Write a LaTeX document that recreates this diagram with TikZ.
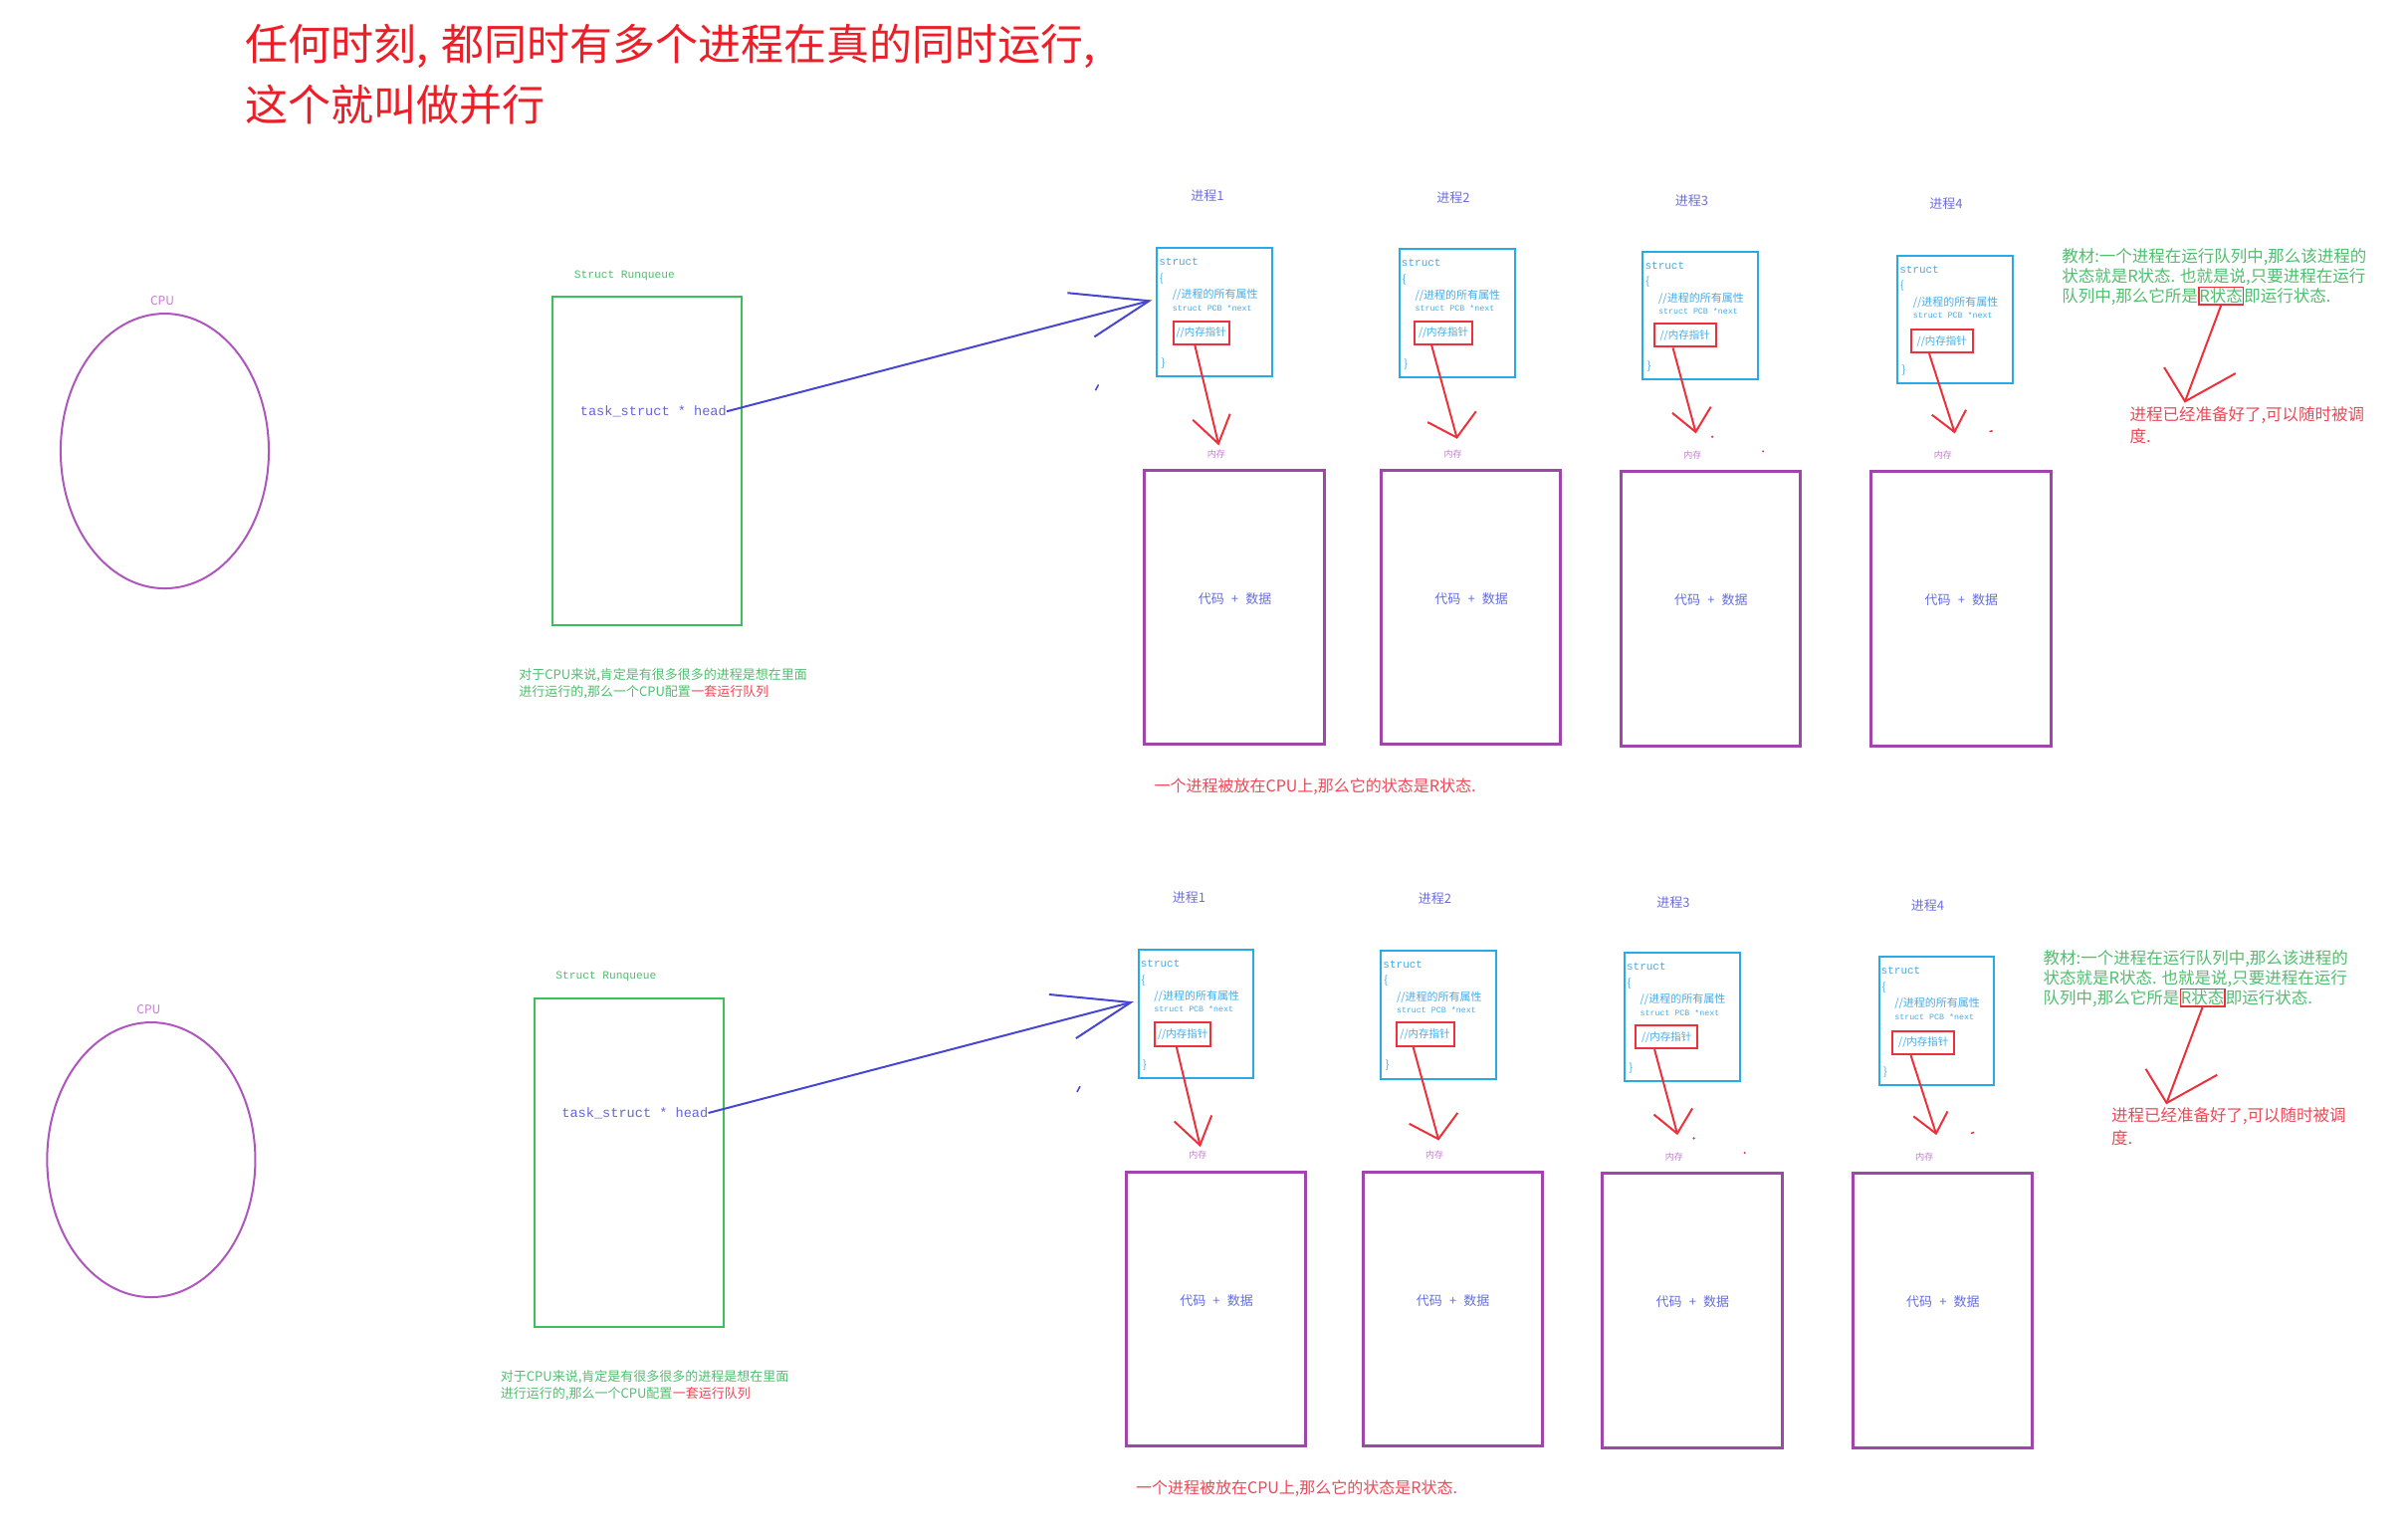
\documentclass[tikz,border=0pt]{standalone}
\usepackage{fontspec}
\setmainfont{Noto Sans CJK SC}
\newfontfamily\monof{Liberation Mono}
\usetikzlibrary{calc,shapes.geometric}
\definecolor{titlered}{RGB}{236,30,40}
\definecolor{notegreen}{RGB}{80,190,110}
\definecolor{boxgreen}{RGB}{60,190,90}
\definecolor{headblue}{RGB}{100,100,220}
\definecolor{arrowblue}{RGB}{70,70,210}
\definecolor{pcbcol}{RGB}{40,170,230}
\definecolor{pcbtext}{RGB}{70,170,230}
\definecolor{boxred}{RGB}{235,50,60}
\definecolor{notered}{RGB}{240,70,85}
\definecolor{memcol}{RGB}{160,70,170}
\definecolor{memlab}{RGB}{200,120,210}
\definecolor{memtxt}{RGB}{100,110,220}
\definecolor{proccol}{RGB}{110,110,220}
\definecolor{cpulab}{RGB}{200,120,210}
\definecolor{cpucol}{RGB}{175,85,190}
\newcommand\unitpx{1.5421pt}
\tikzset{
  proclabel/.style={text=proccol, font=\fontsize{13}{13}\selectfont},
  pcbbox/.style={draw=pcbcol, line width=2pt, anchor=north west, minimum width=75*\unitpx, minimum height=83.5*\unitpx},
  pcbtxt/.style={text=pcbtext, anchor=west, font=\fontsize{11}{11}\selectfont},
  pcbmono/.style={text=pcbtext, anchor=west, font=\monof\fontsize{11}{11}\selectfont},
  pcbsmall/.style={text=pcbtext, anchor=west, font=\monof\fontsize{8.3}{8.3}\selectfont},
  redbox/.style={draw=boxred, line width=2pt, anchor=north west, minimum height=15*\unitpx, text=pcbtext, font=\fontsize{10.5}{10.5}\selectfont},
  redline/.style={draw=boxred, line width=2pt},
  membox/.style={draw=memcol, line width=3pt, anchor=north west, minimum width=117*\unitpx, minimum height=178.6*\unitpx},
  memlabel/.style={text=memlab, font=\fontsize{9}{9}\selectfont},
  memtext/.style={text=memtxt, font=\fontsize{13}{13}\selectfont},
  bluearrow/.style={draw=arrowblue, line width=2pt},
  greennote/.style={text=notegreen, anchor=west},
  rednote/.style={text=notered, anchor=west},
}
\begin{document}
\begin{tikzpicture}[x=1.5421pt,y=-1.5421pt, every node/.style={inner sep=0pt}]
\useasboundingbox (0,0) rectangle (1568,1003);
\fill[white] (0,0) rectangle (1568,1003);
\node[anchor=west, text=titlered, font=\fontsize{43}{50}\selectfont] (title1) at (160,30) {任何时刻,\hspace{0.3em}都同时有多个进程在真的同时运行,};
\node[anchor=west, text=titlered, font=\fontsize{43}{50}\selectfont] (title2) at (160,68) {这个就叫做并行};
\foreach \h/\dx/\dy/\cx/\cy in {a/0/0/0/0,b/-12/457/3.2/4.7}{
\begin{scope}[shift={(\dx,\dy)}]
  % CPU
  \node[text=cpulab, font=\fontsize{12}{12}\selectfont] (cpulabel\h) at (105.7+\cx,195.8+\cy) {CPU};
  \node[draw=cpucol, line width=2pt, ellipse, minimum width=135.6*\unitpx, minimum height=179*\unitpx] (cpu\h) at (107.3+\cx,293.8+\cy) {};
  % run queue
  \node[text=notegreen, anchor=west, font=\monof\fontsize{11.2}{11.2}\selectfont] (rqlabel\h) at (374,179.4) {Struct Runqueue};
  \node[draw=boxgreen, line width=2pt, anchor=north west, minimum width=123.4*\unitpx, minimum height=214*\unitpx] (rq\h) at (359.3,192.8) {};
  \node[text=headblue, anchor=east, font=\monof\fontsize{13.6}{13.6}\selectfont] (head\h) at (473.4,268) {task\_struct * head};
  \node[greennote, font=\fontsize{13}{13}\selectfont] (rqnote1\h) at (338,439.8) {对于CPU来说,肯定是有很多很多的进程是想在里面};
  \node[greennote, font=\fontsize{13}{13}\selectfont] (rqnote2\h) at (338,450.9) {进行运行的,那么一个CPU配置};
  \node[text=notered, anchor=base west, font=\fontsize{13}{13}\selectfont] (rqnote3\h) at (rqnote2\h.base east) {一套运行队列};
  % processes
  \foreach \n/\lx/\ly/\px/\py/\rx/\ry/\rw/\fr/\tx/\ty/\ax/\ay/\bx/\by/\mx/\my in {
    1/786.6/127.5/753/161/763.7/208.6/36.3/0.39/793.7/289/777/273.5/801.3/269.6/744.7/305.4,
    2/946.8/128.5/911/161.5/920.9/208.6/37.6/0.3/949/285/930/275/961.5/268/898.8/305.4,
    3/1102/130.8/1069.6/163.2/1077/210.3/40/0.31/1104.6/281.4/1089.4/269/1114.5/265/1054.9/306.3,
    4/1267.8/133/1235.4/165.8/1244.2/214/40.4/0.3/1273.2/281.4/1258.5/270.2/1280.7/267/1218/306.3}{
    \node[proclabel] (lab\h\n) at (\lx,\ly) {进程\n};
    \node[pcbbox] (pcb\h\n) at (\px,\py) {};
    \node[pcbmono] (st\h\n) at ($(pcb\h\n.north west)+(1.9,9.6)$) {struct};
    \node[pcbtxt] (ob\h\n) at ($(pcb\h\n.north west)+(2.4,20.6)$) {\{};
    \node[pcbtxt] (attr\h\n) at ($(pcb\h\n.north west)+(10.7,31)$) {//进程的所有属性};
    \node[pcbsmall] (nx\h\n) at ($(pcb\h\n.north west)+(10.7,39.4)$) {struct PCB *next};
    \node[pcbtxt] (cb\h\n) at ($(pcb\h\n.north west)+(3.4,75.7)$) {\}};
    \node[redbox, minimum width=\rw*\unitpx] (rb\h\n) at (\rx,\ry) {//内存指针};
    \coordinate (tip\h\n) at (\tx,\ty);
    \coordinate (ba\h\n) at (\ax,\ay);
    \coordinate (bb\h\n) at (\bx,\by);
    \draw[redline] ($(rb\h\n.south west)!\fr!(rb\h\n.south east)$) -- (tip\h\n);
    \draw[redline] (ba\h\n) -- (tip\h\n) -- (bb\h\n);
    \node[membox] (mem\h\n) at (\mx,\my) {};
    \node[memlabel] (nc\h\n) at ($(mem\h\n.north)+(-11.8,-9.9)$) {内存};
    \node[memtext] (md\h\n) at ($(mem\h\n.center)+(0.3,-5.6)$) {代码\hspace{0.55em}+\hspace{0.55em}数据};
  }
  % stray red marks
  \coordinate (dot1\h) at (1115.4,284.5);
  \coordinate (dot2\h) at (1148.5,294);
  \coordinate (dot3\h) at (1298,280.6);
  \fill[boxred] (dot1\h) circle[radius=0.8];
  \fill[boxred] (dot2\h) circle[radius=0.7];
  \draw[boxred, line width=1.5pt] (dot3\h) -- ++(-2,0.6);
  % head arrow
  \coordinate (htip\h) at (748.6,196);
  \coordinate (hb1\h) at (695.4,190.8);
  \coordinate (hb2\h) at (712.9,219.4);
  \draw[bluearrow] (head\h.east) -- (htip\h);
  \draw[bluearrow] (hb1\h) -- (htip\h) -- (hb2\h);
  \coordinate (tk1\h) at (713.6,254.3);
  \coordinate (tk2\h) at (715.6,250.6);
  \draw[bluearrow, line width=1.5pt] (tk1\h) -- (tk2\h);
  % R state note
  \node[rednote, font=\fontsize{16}{16}\selectfont] (rnote\h) at (751.8,512.7) {一个进程被放在CPU上,那么它的状态是R状态.};
  % textbook note
  \node[greennote, font=\fontsize{16.5}{16.5}\selectfont] (tb1\h) at (1343,167.5) {教材:一个进程在运行队列中,那么该进程的};
  \node[greennote, font=\fontsize{16.5}{16.5}\selectfont] (tb2\h) at (1343,180.5) {状态就是R状态. 也就是说,只要进程在运行};
  \node[greennote, font=\fontsize{16.5}{16.5}\selectfont] (tb3\h) at (1343,193.4) {队列中,那么它所是};
  \node[text=notegreen, draw=boxred, line width=1.5pt, anchor=base west, inner xsep=0.6pt, inner ysep=1.2pt, font=\fontsize{16.5}{16.5}\selectfont] (rst\h) at (tb3\h.base east) {R状态};
  \node[text=notegreen, anchor=base west, font=\fontsize{16.5}{16.5}\selectfont] (tb4\h) at (rst\h.base east) {即运行状态.};
  \coordinate (rtip\h) at (1423.4,261.5);
  \coordinate (rb1\h) at (1409.8,239.3);
  \coordinate (rb2\h) at (1456.3,243.2);
  \draw[redline] (rst\h.south) -- (rtip\h);
  \draw[redline] (rb1\h) -- (rtip\h) -- (rb2\h);
  \node[rednote, font=\fontsize{16.5}{16.5}\selectfont] (ready1\h) at (1387.3,270.2) {进程已经准备好了,可以随时被调};
  \node[rednote, font=\fontsize{16.5}{16.5}\selectfont] (ready2\h) at (1387.3,284.2) {度.};
\end{scope}
}
\end{tikzpicture}
\end{document}
